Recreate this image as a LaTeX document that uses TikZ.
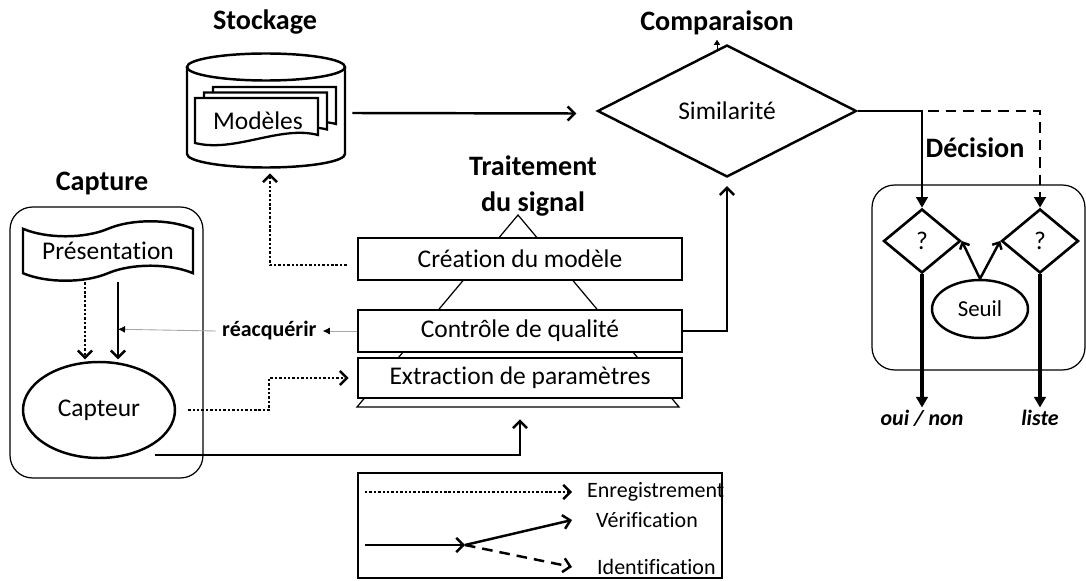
\documentclass[tikz,border=0pt]{standalone}
\usepackage{fontspec}
\setmainfont{Carlito}[Ligatures=NoCommon]
\usetikzlibrary{arrows.meta,positioning,shapes.geometric,shapes.symbols}

\begin{document}
\begin{tikzpicture}[
        x=0.02cm, y=0.02cm,
        node distance=1cm,
        title/.style={font=\fontsize{16}{21}\selectfont\bfseries, align=center},
        txt/.style={font=\fontsize{14.5}{16}\selectfont},
        block/.style={draw, line width=1.5pt, fill=white, minimum width=6.48cm, minimum height=0.84cm, inner sep=0pt, txt},
        group/.style={draw, line width=0.7pt, rounded corners=0.45cm},
        qbox/.style={diamond, draw, line width=1.5pt, fill=white, minimum width=1.54cm, minimum height=1.28cm, inner sep=0pt, txt},
        legtxt/.style={font=\fontsize{12.5}{14}\selectfont, anchor=west},
        outlbl/.style={font=\fontsize{12.5}{14}\selectfont\bfseries\itshape, inner sep=0pt},
        barb/.style={-{Straight Barb[length=4pt,width=8pt]}},
        tri/.style={-{Triangle[length=6pt,width=6.5pt]}},
        verif/.style={line width=1.4pt, barb},
        enrol/.style={line width=1.4pt, dash pattern=on 1.4pt off 1.1pt, barb},
        ident/.style={line width=1.4pt, dash pattern=on 6pt off 4pt, barb},
        back/.style={line width=0.5pt, draw=gray!70, -{Latex[length=4pt,width=4pt,color=black]}},
    ]
        \useasboundingbox (0,0) rectangle (1086,-581);

        \node[title] (t-store) at (265,-22) {Stockage};
        \node[title] (t-comp) at (717,-23) {Comparaison};
        \node[title] (t-proc) at (533,-186) {Traitement\\du signal};
        \node[title] (t-capt) at (102,-183) {Capture};
        \node[title] (t-dec) at (975,-148) {Décision};

        \node[group, minimum width=3.86cm, minimum height=5.42cm] (capbox) at (106.5,-342.5) {};
        \node[group, minimum width=4.26cm, minimum height=3.7cm] (decbox) at (978.5,-277.5) {};

        \draw[line width=1.4pt, fill=white] (187,-67) -- (187,-154) arc[start angle=180, end angle=360, x radius=79, y radius=13.5] -- (345,-67);
        \draw[line width=1.4pt] (266,-67) ellipse [x radius=79, y radius=13.5];
        \node[minimum width=3.16cm, minimum height=2.28cm] (store) at (266,-110.5) {};
        \foreach \dx/\dy in {18/11, 9/5.5, 0/0}
            \draw[line width=1.3pt, fill=white] (195+\dx,-98+\dy) -- (318+\dx,-98+\dy) -- (318+\dx,-135+\dy)
                .. controls (280+\dx,-125+\dy) and (235+\dx,-153+\dy) .. (195+\dx,-143+\dy) -- cycle;
        \node[txt] (models) at (258,-121) {Modèles};

        \node[tape, draw, line width=1.4pt, minimum width=3.4cm, minimum height=1.04cm, tape bend height=0.3cm, txt] (pres) at (108,-251) {Présentation};
        \node[ellipse, draw, line width=1.4pt, minimum width=3.04cm, minimum height=1.92cm, inner sep=0pt, txt] (capt) at (99,-410) {Capteur};

        \draw[line width=0.7pt] (518,-215) -- (679,-407) -- (357,-407) -- cycle;
        \node[block] (creation) at (520,-259) {Création du modèle};
        \node[block] (ctrl) at (520,-331) {Contrôle de qualité};
        \node[block, minimum height=0.8cm] (extr) at (520,-378) {Extraction de paramètres};

        \node[diamond, draw, line width=1.4pt, minimum width=5.18cm, minimum height=2.64cm, inner sep=0pt, txt] (simil) at (727,-111) {Similarité};

        \node[qbox] (q1) at (922,-241) {?};
        \node[qbox] (q2) at (1040,-241) {?};
        \node[ellipse, draw, line width=1.4pt, minimum width=1.92cm, minimum height=1.16cm, inner sep=0pt, font=\fontsize{13}{15}\selectfont] (seuil) at (980,-309) {Seuil};
        \node[outlbl, below=2.7cm of q1] (oui) {oui / non};
        \node[outlbl, below=2.7cm of q2] (liste) {liste};

        \node[font=\fontsize{12.5}{14}\selectfont\bfseries, left=0.68cm of ctrl] (reac) {réacquérir};
        \coordinate (rejoin) at ([xshift=0.2cm, yshift=-1.1cm]pres.south);

        \draw[verif] ([xshift=0.14cm, yshift=-0.05cm]store.east) -- ([xshift=-0.4cm, yshift=-0.05cm]simil.west);
        \draw[line width=0.4pt, -{Triangle[length=0.1cm,width=0.12cm]}] ([xshift=-0.2cm, yshift=-0.12cm]simil.north) -- ([xshift=-0.2cm, yshift=0.08cm]simil.north);
        \draw[enrol, shorten <=0.2cm] ([yshift=-0.12cm]creation.west) -| ([xshift=0.08cm, yshift=-0.11cm]store.south);
        \draw[enrol, shorten <=0.16cm] ([xshift=-0.46cm]pres.south) -- ++(0,-85);
        \draw[verif, shorten <=0.16cm] ([xshift=0.2cm]pres.south) -- ++(0,-85);
        \draw[back] (ctrl.west) -- (reac.east);
        \draw[back] (reac.west) -- (rejoin);
        \draw[enrol, shorten <=0.24cm, shorten >=0.16cm] (capt.east) -- ++(93,0) |- (extr.west);
        \draw[verif, shorten >=0.4cm] ([xshift=1.12cm, yshift=0.08cm]capt.south) -| (extr.south);
        \draw[verif, shorten >=0.16cm] (ctrl.east) -| (simil.south);

        \draw[line width=1.5pt, dash pattern=on 6pt off 4pt, tri] (simil.east) -| (q2.north);
        \draw[line width=1.5pt, tri] (simil.east) -| (q1.north);
        \draw[line width=1.4pt, -{Straight Barb[length=3pt,width=6pt]}] (seuil.north) -- (q1.east);
        \draw[line width=1.4pt, -{Straight Barb[length=3pt,width=6pt]}] (seuil.north) -- (q2.west);
        \draw[line width=2.6pt, tri, shorten >=1pt] (q1.south) -- (oui.north);
        \draw[line width=2pt, tri, shorten >=1pt] (q2.south) -- (liste.north);

        \node[legtxt] (l-enr) at (581,-492) {Enregistrement};
        \node[legtxt] (l-ver) at (590,-520) {Vérification};
        \node[legtxt] (l-ide) at (591,-567) {Identification};
        \node[draw, line width=1.5pt, minimum width=7.28cm, minimum height=2.1cm] (legend) at (540,-525.5) {};
        \coordinate (l-a) at (365,-492);
        \coordinate (l-b) at (572,-492);
        \coordinate (l-c) at (365,-545);
        \coordinate (l-m) at (465,-545);
        \coordinate (l-v) at (572,-520);
        \coordinate (l-i) at (572,-567);
        \draw[enrol] (l-a) -- (l-b);
        \draw[verif] (l-c) -- (l-m);
        \draw[verif] (l-m) -- (l-v);
        \draw[ident] (l-m) -- (l-i);
\end{tikzpicture}
\end{document}
